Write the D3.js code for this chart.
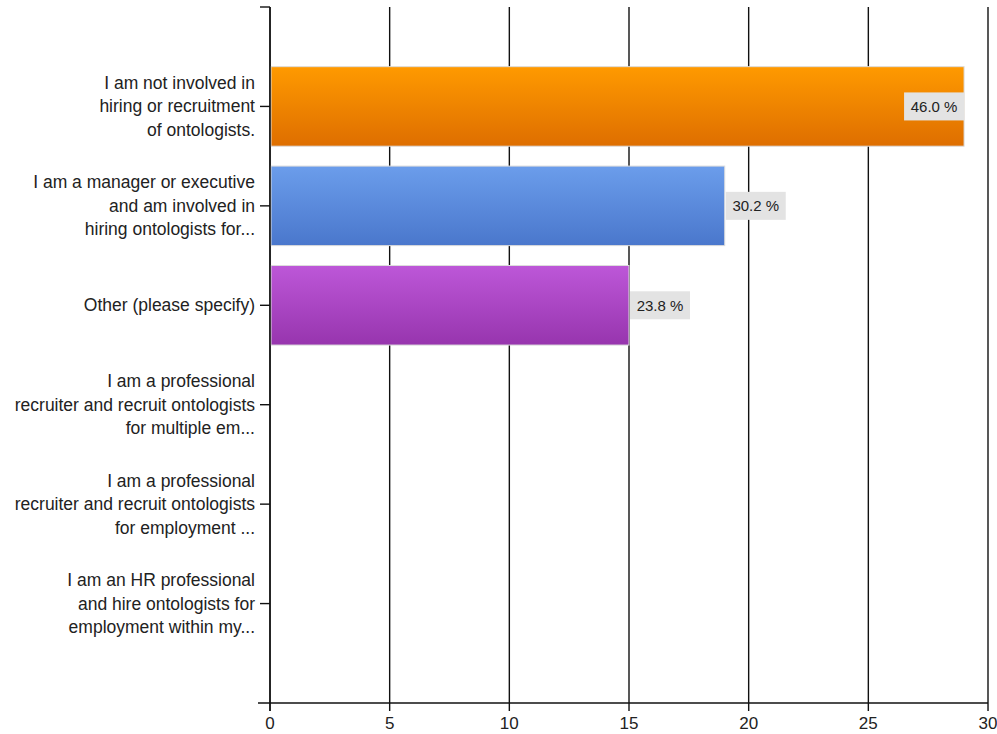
<!DOCTYPE html>
<html>
<head>
<meta charset="utf-8">
<script src="https://cdn.jsdelivr.net/npm/d3@7"></script>
<style>
  html, body { margin: 0; padding: 0; background: #fff; }
  svg { display: block; }
  text { font-family: "Liberation Sans", Arial, sans-serif; }
</style>
</head>
<body>
<svg id="chart" width="997" height="734"></svg>
<script>
const categories = [
  ["I am not involved in", "hiring or recruitment", "of ontologists."],
  ["I am a manager or executive", "and am involved in", "hiring ontologists for..."],
  ["Other (please specify)"],
  ["I am a professional", "recruiter and recruit ontologists", "for multiple em..."],
  ["I am a professional", "recruiter and recruit ontologists", "for employment ..."],
  ["I am an HR professional", "and hire ontologists for", "employment within my..."]
];
const values = [29, 19, 15, 0, 0, 0];
const percentLabels = ["46.0 %", "30.2 %", "23.8 %", "", "", ""];
const xTicks = [0, 5, 10, 15, 20, 25, 30];
const barColors = [
  ["#ff9a00", "#de6e00"],
  ["#6b9deb", "#4a77cc"],
  ["#bd57d8", "#9735ae"],
  ["#999", "#777"], ["#999", "#777"], ["#999", "#777"]
];

(function () {
const svg = d3.select("#chart");
const mLeft = 270, mRight = 988, mTop = 7, mBottom = 703;

const x = d3.scaleLinear().domain([0, 30]).range([mLeft, mRight]);
const y = d3.scalePoint().domain(d3.range(categories.length)).range([mTop, mBottom]).padding(1);
const barH = y.step() * 0.8;

const defs = svg.append("defs");
barColors.forEach((c, i) => {
  const g = defs.append("linearGradient").attr("id", "g" + i)
    .attr("x1", 0).attr("y1", 0).attr("x2", 0).attr("y2", 1);
  g.append("stop").attr("offset", "0%").attr("stop-color", c[0]);
  g.append("stop").attr("offset", "100%").attr("stop-color", c[1]);
});

svg.append("g").selectAll("line").data(xTicks).join("line")
  .attr("x1", d => x(d)).attr("x2", d => x(d))
  .attr("y1", mTop).attr("y2", mBottom + 8)
  .attr("stroke", "#111").attr("stroke-width", 1.4);

svg.append("line").attr("x1", mLeft - 12).attr("x2", mRight)
  .attr("y1", mBottom).attr("y2", mBottom).attr("stroke", "#111").attr("stroke-width", 1.4);
svg.append("line").attr("x1", mLeft - 10).attr("x2", mLeft)
  .attr("y1", mTop).attr("y2", mTop).attr("stroke", "#111").attr("stroke-width", 1.4);

svg.append("g").selectAll("text").data(xTicks).join("text")
  .attr("x", d => x(d)).attr("y", 729)
  .attr("text-anchor", "middle").attr("font-size", 17).attr("fill", "#222")
  .text(d => d);

svg.append("g").selectAll("rect").data(values.map((v, i) => ({v, i})).filter(d => d.v > 0)).join("rect")
  .attr("x", x(0) + 1)
  .attr("y", d => y(d.i) - barH / 2)
  .attr("width", d => x(d.v) - x(0) - 1)
  .attr("height", barH)
  .attr("fill", d => `url(#g${d.i})`)
  .attr("stroke", "#dcdcdc").attr("stroke-width", 1);

const catG = svg.append("g");
categories.forEach((lines, i) => {
  const cy = y(i);
  catG.append("line").attr("x1", mLeft - 10).attr("x2", mLeft)
    .attr("y1", cy).attr("y2", cy).attr("stroke", "#111").attr("stroke-width", 1.4);
  const lh = 23.5;
  const t = catG.append("text").attr("text-anchor", "end")
    .attr("font-size", 17.5).attr("fill", "#222");
  lines.forEach((ln, k) => {
    t.append("tspan").attr("x", mLeft - 15)
      .attr("y", cy + (k - (lines.length - 1) / 2) * lh + 6)
      .text(ln);
  });
});

svg.append("line").attr("x1", mLeft).attr("x2", mLeft)
  .attr("y1", mTop).attr("y2", mBottom + 8).attr("stroke", "#111").attr("stroke-width", 1.4);

const lblG = svg.append("g");
values.forEach((v, i) => {
  if (!percentLabels[i]) return;
  const cy = y(i);
  const h = 28, w = 60;
  const bx = (x(v) + w + 4 > mRight) ? x(v) - w : x(v) + 1;
  lblG.append("rect").attr("x", bx).attr("y", cy - h / 2)
    .attr("width", w).attr("height", h).attr("fill", "#e3e3e3");
  lblG.append("text").attr("x", bx + w / 2).attr("y", cy + 5.5)
    .attr("text-anchor", "middle").attr("font-size", 15).attr("fill", "#222")
    .text(percentLabels[i]);
});
})();
</script>
</body>
</html>
